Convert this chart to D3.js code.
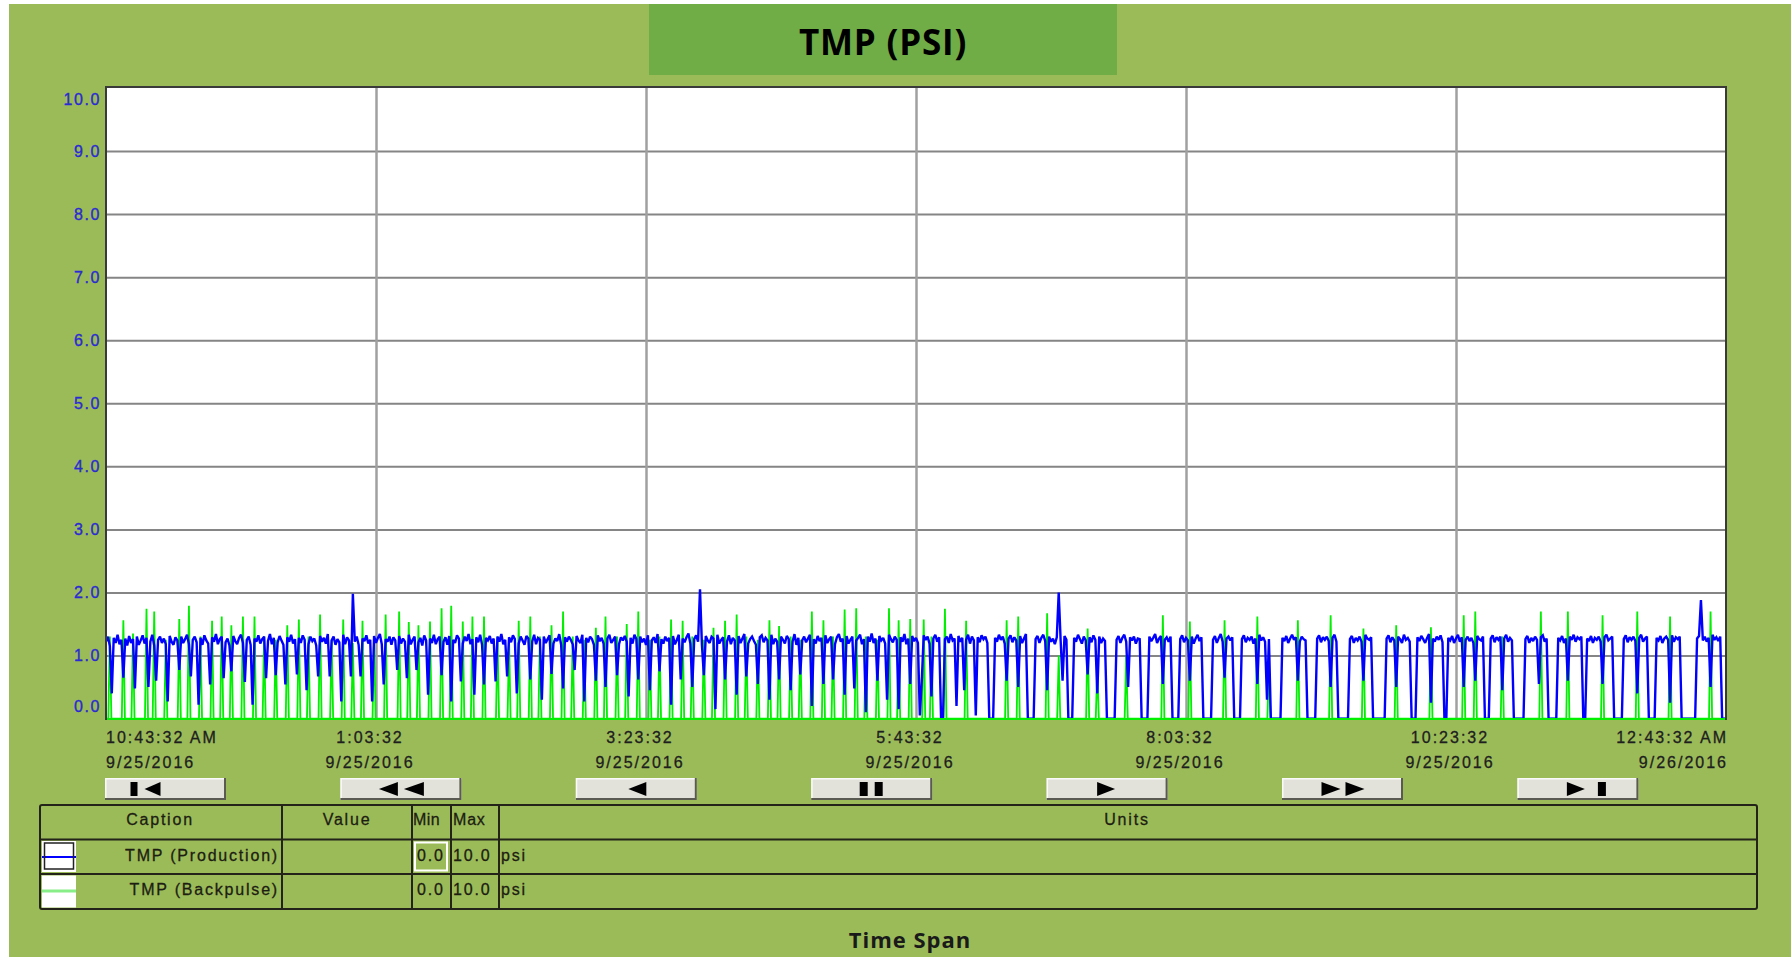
<!DOCTYPE html>
<html><head><meta charset="utf-8">
<script src="https://cdn.jsdelivr.net/npm/d3@7"></script>
<style>body{margin:0;background:#fff;overflow:hidden}svg{display:block}</style>
</head><body><svg id="c" width="1791" height="957"></svg>
<script>
// ---------------- DATA ----------------
const chartTitle = "TMP (PSI)";
const footerText = "Time Span";
const spanMinutes = 840; // 10:43:32 AM 9/25 -> 12:43:32 AM 9/26
const tickMinutes = [0, 140, 280, 420, 560, 700, 840];
const tickTimeLabels = ["10:43:32 AM", "1:03:32", "3:23:32", "5:43:32", "8:03:32", "10:23:32", "12:43:32 AM"];
const tickDateLabels = ["9/25/2016", "9/25/2016", "9/25/2016", "9/25/2016", "9/25/2016", "9/25/2016", "9/26/2016"];
const yTicks = [0, 1, 2, 3, 4, 5, 6, 7, 8, 9, 10];

// TMP (Production), one reading per minute (psi)
const prodValues = [
1.22,1.3,1.15,0.4,1.28,1.2,1.33,1.18,1.25,0.65,
1.27,1.16,1.31,1.2,1.26,0.48,1.3,1.17,1.24,1.32,
1.19,1.28,0.5,1.22,1.33,1.16,0.6,1.25,1.3,1.2,
1.27,1.18,0.27,1.31,1.22,1.17,1.29,1.24,0.77,1.3,
1.2,1.26,1.33,1.18,0.67,1.25,1.3,1.21,0.22,1.28,
1.17,1.32,1.24,1.19,0.54,1.29,1.22,1.34,1.18,1.26,
1.3,0.64,1.21,1.27,1.16,0.75,1.31,1.23,1.18,1.28,
1.33,1.2,0.58,1.25,1.3,1.17,0.22,1.27,1.22,1.32,
1.19,1.26,1.3,0.64,1.23,1.34,1.18,1.28,0.69,1.21,
1.31,1.24,1.17,0.54,1.29,1.22,1.33,1.19,1.26,0.7,
1.28,1.2,1.32,1.25,0.45,1.18,1.3,1.23,1.27,1.16,
0.67,1.31,1.22,1.28,1.19,1.34,0.67,1.24,1.3,1.17,
1.26,1.21,0.27,1.33,1.18,1.29,1.24,0.67,1.98,1.22,
1.3,1.17,0.67,1.27,1.23,1.32,1.19,1.25,0.27,1.31,
1.2,1.28,1.34,1.18,0.54,1.26,1.22,1.3,1.17,1.29,
1.24,0.77,1.31,1.19,1.27,1.22,0.64,1.33,1.18,1.25,
1.3,0.77,1.21,1.28,1.16,1.32,1.24,0.38,1.27,1.2,
1.33,1.18,1.26,1.3,0.69,1.22,1.29,1.17,1.31,0.27,
1.25,1.2,1.32,1.27,0.59,1.19,1.3,1.23,1.34,1.18,
1.26,0.38,1.29,1.21,1.33,1.17,0.54,1.28,1.24,1.31,
1.19,1.27,0.59,1.3,1.22,1.34,1.18,1.25,0.67,1.29,
1.21,1.32,1.26,0.4,1.19,1.3,1.24,1.17,1.31,1.27,
0.62,1.22,1.33,1.18,1.28,1.25,0.3,1.3,1.2,1.26,
1.32,0.71,1.19,1.27,1.23,1.34,1.17,0.48,1.29,1.22,
1.3,1.25,1.18,0.77,1.31,1.24,1.2,1.33,0.27,1.28,
1.21,1.3,1.26,1.17,0.6,1.32,1.23,1.28,1.19,0.5,
1.27,1.33,1.2,1.25,1.3,0.69,1.18,1.29,1.24,1.31,
1.22,0.35,1.28,1.19,1.33,1.26,0.62,1.3,1.21,1.27,
1.17,1.32,0.45,1.24,1.29,1.2,1.34,0.75,1.26,1.19,
1.3,1.23,1.28,0.22,1.31,1.18,1.25,1.33,0.62,1.27,
1.21,1.29,1.35,1.19,0.5,1.26,1.32,1.22,2.05,1.17,
0.69,1.31,1.24,1.2,1.3,1.27,0.15,1.33,1.19,1.25,
1.29,0.62,1.22,1.32,1.18,1.28,1.24,0.38,1.31,1.2,
1.27,1.34,0.67,1.19,1.26,1.3,1.23,1.17,0.55,1.29,
1.32,1.21,1.28,1.24,0.3,1.33,1.18,1.27,1.22,0.62,
1.3,1.25,1.19,1.31,1.26,0.45,1.22,1.34,1.17,1.28,
0.7,1.24,1.3,1.21,1.27,1.33,0.2,1.26,1.19,1.31,
1.23,1.28,0.55,1.32,1.2,1.26,1.3,0.62,1.18,1.29,
1.34,1.22,1.27,0.38,1.31,1.19,1.25,1.3,0.48,1.24,
1.28,1.33,1.18,1.26,0.1,1.3,1.22,1.35,1.2,1.27,
0.6,1.31,1.24,1.28,1.19,0.3,1.33,1.26,1.21,1.3,
1.25,0.15,1.29,1.22,1.34,1.18,1.27,0.55,1.31,1.23,
1.28,1.2,0.05,0.6,1.32,1.25,1.3,1.19,0.35,1.27,
1.33,1.22,1.29,0.0,0.0,1.26,1.3,1.2,1.34,1.24,
1.27,0.2,1.31,1.22,1.28,0.45,1.25,1.33,1.19,1.3,
1.24,0.05,1.29,1.21,1.32,1.26,1.3,1.2,0.0,0.0,
0.0,1.28,1.22,1.33,1.25,1.3,1.19,0.6,1.27,1.32,
1.21,1.29,1.24,0.5,1.31,1.2,1.27,1.34,0.0,0.0,
0.0,0.0,1.26,1.31,1.2,1.28,1.33,1.23,0.45,1.3,
1.22,1.27,1.18,1.29,2.0,1.24,0.6,1.31,1.25,0.0,
0.0,0.0,1.28,1.22,1.33,1.26,1.19,1.3,1.24,0.7,
1.29,1.21,1.32,1.25,0.4,1.3,1.2,1.27,1.23,0.0,
0.0,0.0,0.0,0.0,1.25,1.31,1.2,1.28,1.33,1.22,
0.5,1.29,1.24,1.3,1.19,1.27,1.26,0.0,0.0,0.0,
0.0,1.3,1.23,1.28,1.34,1.2,1.27,1.31,0.55,1.25,
1.29,1.22,1.3,0.0,0.0,0.0,0.0,1.26,1.32,1.21,
1.28,1.24,0.6,1.3,1.19,1.27,1.33,1.23,1.29,0.0,
0.0,0.0,0.0,0.0,1.25,1.31,1.2,1.28,1.34,1.22,
0.65,1.27,1.3,1.24,1.29,0.0,0.0,0.0,0.0,1.26,
1.32,1.21,1.28,1.25,1.3,1.19,1.27,0.55,1.33,1.24,
1.29,1.22,0.3,1.26,0.0,0.0,0.0,0.0,0.0,0.0,
1.28,1.23,1.31,1.2,1.27,1.33,1.25,1.29,0.6,1.22,
1.3,1.26,1.24,0.0,0.0,0.0,0.0,0.0,1.27,1.32,
1.21,1.29,1.25,1.3,1.23,0.5,1.28,1.33,1.22,0.0,
0.0,0.0,0.0,0.0,0.0,1.26,1.31,1.2,1.28,1.24,
1.3,1.22,0.6,1.33,1.27,1.25,1.29,0.0,0.0,0.0,
0.0,0.0,0.0,0.0,1.27,1.32,1.21,1.29,1.24,0.5,
1.3,1.26,1.2,1.33,1.25,1.28,1.22,0.0,0.0,0.0,
1.29,1.23,1.31,1.26,1.2,1.28,1.34,0.25,1.27,1.22,
1.3,1.25,1.32,1.21,0.0,0.0,1.28,1.24,1.31,1.2,
1.27,1.33,1.22,1.29,0.5,1.25,1.3,1.23,1.28,1.2,
0.6,1.31,1.26,1.24,1.3,0.0,0.0,0.0,1.27,1.32,
1.21,1.29,1.25,1.3,0.45,1.27,1.33,1.22,1.28,1.24,
0.0,0.0,0.0,0.0,0.0,0.0,1.26,1.31,1.2,1.28,
1.23,1.3,1.25,0.55,1.29,1.32,1.22,1.27,0.0,0.0,
0.0,0.0,0.0,1.28,1.24,1.31,1.2,1.27,0.6,1.3,
1.25,1.33,1.22,1.29,1.26,1.3,0.0,0.0,1.27,1.23,
1.31,1.2,1.28,1.25,1.3,1.22,0.55,1.29,1.33,1.24,
1.27,1.3,0.0,0.0,0.0,0.0,0.0,1.26,1.32,1.21,
1.29,1.25,1.3,1.23,0.4,1.28,1.33,1.22,1.27,1.3,
0.0,0.0,0.0,0.0,1.28,1.24,1.31,1.2,1.27,1.3,
1.25,0.25,1.32,1.22,1.29,1.26,1.3,0.0,0.0,0.0,
0.0,0.0,0.0,0.0,0.0,1.27,1.31,1.88,1.24,1.3,
1.22,1.28,0.5,1.33,1.25,1.29,1.23,1.3,0.0,0.0,
0.0
];

// TMP (Backpulse) pulses: minute after start, peak (psi); zero otherwise
const bpTime = [2,9,14,21,25,31,38,43,49,55,60,65,71,77,82,88,94,100,105,111,117,123,128,133,139,
145,152,157,162,168,174,179,185,190,196,203,209,214,220,225,231,237,242,248,254,259,265,270,276,282,
287,293,299,304,310,315,321,327,332,338,344,349,355,360,366,372,377,383,389,394,400,406,411,417,424,428,435,
446,467,473,488,494,509,514,529,548,562,580,597,603,618,635,652,669,687,704,710,724,744,758,776,794,811,832];
const bpPeak = [1.3,1.56,1.35,1.74,1.7,1.25,1.58,1.79,1.3,1.55,1.62,1.48,1.62,1.62,1.3,1.25,1.48,1.57,1.3,1.65,1.25,1.57,1.2,1.55,1.3,
1.65,1.7,1.53,1.48,1.54,1.75,1.79,1.54,1.62,1.62,1.3,1.25,1.55,1.62,1.3,1.48,1.7,1.3,1.25,1.44,1.62,1.3,1.5,1.7,1.25,
1.3,1.57,1.55,1.3,1.25,1.44,1.55,1.65,1.3,1.25,1.56,1.47,1.3,1.25,1.7,1.56,1.3,1.73,1.75,1.3,1.25,1.75,1.56,1.58,1.57,1.3,1.74,
1.55,1.56,1.62,1.67,1.0,1.43,0.8,1.0,1.64,1.54,1.56,1.62,0.9,1.56,1.64,1.43,1.48,1.45,1.64,1.7,1.3,1.7,1.7,1.64,1.7,1.62,1.7];

const seriesNames = ["TMP (Production)", "TMP (Backpulse)"];
const seriesColors = ["#0000ff", "#00f000"];
const legendSwatchColors = ["#0000ff", "#88ee88"];
const seriesMin = ["0.0", "0.0"];
const seriesMax = ["10.0", "10.0"];
const seriesUnits = ["psi", "psi"];
const tableHeaders = ["Caption", "Value", "Min", "Max", "Units"];
const buttonIcons = ["first", "rewind", "back", "pause", "play", "ffwd", "last"];

// ---------------- LAYOUT ----------------
const W = 1791, H = 957;
const BG = "#9bbb59";
const plot = {left: 106, right: 1726, top: 87, bottom: 720};
const t0 = new Date(2016, 8, 25, 10, 43, 32);
const toDate = m => new Date(t0.getTime() + m * 60000);
const smallFont = "'Liberation Sans', Arial, sans-serif";

const svg = d3.select("#c");
const x = d3.scaleTime().domain([toDate(0), toDate(spanMinutes)]).range([plot.left, plot.right]);
const y = d3.scaleLinear().domain([0, 10]).range([718.6, 88]);

svg.append("rect").attr("width", W).attr("height", H).attr("fill", "#fff");
svg.append("rect").attr("x", 9).attr("y", 4).attr("width", W - 9).attr("height", H - 4).attr("fill", BG);

// title box
svg.append("rect").attr("x", 649).attr("y", 4).attr("width", 468).attr("height", 71).attr("fill", "#70ad47");
svg.append("text").attr("x", 883).attr("y", 55).attr("text-anchor", "middle")
  .attr("font-family", "'Open Sans', Lato, sans-serif").attr("font-weight", 700)
  .attr("font-size", 35).attr("letter-spacing", 0.8).attr("fill", "#000").text(chartTitle);

// plot area
svg.append("rect").attr("x", plot.left).attr("y", plot.top)
  .attr("width", plot.right - plot.left).attr("height", plot.bottom - plot.top).attr("fill", "#fff");

svg.append("defs").append("clipPath").attr("id", "clip").append("rect")
  .attr("x", plot.left).attr("y", plot.top).attr("width", plot.right - plot.left).attr("height", plot.bottom - plot.top);

// grid: horizontal
const gy = svg.append("g").attr("transform", `translate(${plot.left},0)`)
  .call(d3.axisLeft(y).tickValues(yTicks.filter(v => v > 0 && v < 10)).tickSize(-(plot.right - plot.left)).tickFormat(""));
gy.select(".domain").remove();
gy.selectAll("line").attr("stroke", "#858585").attr("stroke-width", 2);
// grid: vertical
const gx = svg.append("g").attr("transform", `translate(0,${plot.bottom})`)
  .call(d3.axisBottom(x).tickValues(tickMinutes.slice(1, -1).map(toDate)).tickSize(-(plot.bottom - plot.top)).tickFormat(""));
gx.select(".domain").remove();
gx.selectAll("line").attr("stroke", "#a0a0a0").attr("stroke-width", 2.5);

// series
const bpPoints = [[0, 0]];
bpTime.forEach((t, i) => { bpPoints.push([t - 0.8, 0], [t, bpPeak[i]], [t + 0.8, 0]); });
bpPoints.push([spanMinutes, 0]);

const lineG = svg.append("g").attr("clip-path", "url(#clip)");
lineG.append("path").datum(bpPoints)
  .attr("d", d3.line().x(d => x(toDate(d[0]))).y(d => y(d[1])))
  .attr("fill", "none").attr("stroke", seriesColors[1]).attr("stroke-width", 1.8)
  .attr("stroke-linejoin", "miter").attr("stroke-miterlimit", 2);
lineG.append("path").datum(prodValues)
  .attr("d", d3.line().x((d, i) => x(toDate(i))).y(d => y(d)))
  .attr("fill", "none").attr("stroke", seriesColors[0]).attr("stroke-width", 2.4)
  .attr("stroke-linejoin", "miter").attr("stroke-miterlimit", 2);
// backpulse zero level
lineG.append("path").datum([[0, 0], [spanMinutes, 0]])
  .attr("d", d3.line().x(d => x(toDate(d[0]))).y(d => y(d[1]) + 0.8))
  .attr("fill", "none").attr("stroke", seriesColors[1]).attr("stroke-width", 3);

// plot border
svg.append("path")
  .attr("d", `M${plot.left},${plot.bottom}V${plot.top}H${plot.right}V${plot.bottom}`)
  .attr("fill", "none").attr("stroke", "#3a3a3a").attr("stroke-width", 2);

// y labels
svg.append("g").selectAll("text").data(yTicks).join("text")
  .attr("x", 101)
  .attr("y", d => Math.min(Math.max(y(d), plot.top + 12), plot.bottom - 14))
  .attr("dy", "0.36em").attr("text-anchor", "end")
  .attr("font-family", smallFont).attr("font-size", 16).attr("letter-spacing", 1.6)
  .attr("fill", "#2a2ad2").attr("stroke", "#2a2ad2").attr("stroke-width", 0.35).text(d => d.toFixed(1));

// x labels
const anchorFor = i => i === 0 ? "start" : (i === tickMinutes.length - 1 ? "end" : "middle");
const xLab = i => x(toDate(tickMinutes[i])) + (i === 0 ? 0 : (i === tickMinutes.length - 1 ? 2 : -6));
const xl = svg.append("g").attr("font-family", smallFont).attr("font-size", 16).attr("letter-spacing", 2)
  .attr("fill", "#1e1e1e").attr("stroke", "#1e1e1e").attr("stroke-width", 0.3);
xl.selectAll("text.t").data(tickTimeLabels).join("text").attr("class", "t")
  .attr("x", (d, i) => xLab(i)).attr("y", 743).attr("text-anchor", (d, i) => anchorFor(i)).text(d => d);
xl.selectAll("text.d").data(tickDateLabels).join("text").attr("class", "d")
  .attr("x", (d, i) => xLab(i)).attr("y", 768).attr("text-anchor", (d, i) => anchorFor(i)).text(d => d);

// buttons
const btnW = 121, btnH = 22;
function tri(g, x0, x1, dir) {
  const top = 4, bot = 18, mid = 11;
  const d = dir < 0 ? `M${x1},${top}L${x0},${mid}L${x1},${bot}Z` : `M${x0},${top}L${x1},${mid}L${x0},${bot}Z`;
  g.append("path").attr("d", d).attr("fill", "#000");
}
function bar(g, x0, x1) { g.append("rect").attr("x", x0).attr("y", 4).attr("width", x1 - x0).attr("height", 14).attr("fill", "#000"); }
buttonIcons.forEach((name, i) => {
  const bx = 105 + i * 235.4, by = 778;
  const g = svg.append("g").attr("transform", `translate(${bx},${by})`);
  g.append("rect").attr("width", btnW).attr("height", btnH).attr("fill", "#e2e2da");
  g.append("path").attr("d", `M0.75,${btnH}V0.75H${btnW}`).attr("stroke", "#fafafa").attr("stroke-width", 1.5).attr("fill", "none");
  g.append("path").attr("d", `M0,${btnH - 1}H${btnW - 1}V0`).attr("stroke", "#5a5a52").attr("stroke-width", 2).attr("fill", "none");
  const ic = g.append("g").attr("transform", `translate(${btnW / 2},0)`);
  if (name === "first") { bar(ic, -35, -28); tri(ic, -21, -5, -1); }
  if (name === "rewind") { tri(ic, -22, -3, -1); tri(ic, 3, 23, -1); }
  if (name === "back") { tri(ic, -8, 10, -1); }
  if (name === "pause") { bar(ic, -12, -4); bar(ic, 3, 11); }
  if (name === "play") { tri(ic, -10, 8, 1); }
  if (name === "ffwd") { tri(ic, -21, -2, 1); tri(ic, 3, 22, 1); }
  if (name === "last") { tri(ic, -11, 7, 1); bar(ic, 20, 28); }
});

// legend table
const tL = 40, tR = 1757, rowY = [805, 839.5, 874, 909];
const colX = [282, 412, 451, 499];
const tbl = svg.append("g");
// swatches
tbl.append("rect").attr("x", 42).attr("y", 841).attr("width", 34).attr("height", 31).attr("fill", "#fff");
tbl.append("line").attr("x1", 42).attr("x2", 76).attr("y1", 857).attr("y2", 857).attr("stroke", legendSwatchColors[0]).attr("stroke-width", 2);
tbl.append("rect").attr("x", 44.5).attr("y", 843).attr("width", 29).attr("height", 26).attr("fill", "none").attr("stroke", "#222").attr("stroke-width", 1.5);
tbl.append("rect").attr("x", 42).attr("y", 875.5).attr("width", 34).attr("height", 32).attr("fill", "#fff");
tbl.append("line").attr("x1", 42).attr("x2", 76).attr("y1", 891).attr("y2", 891).attr("stroke", legendSwatchColors[1]).attr("stroke-width", 3);
// selected min cell
tbl.append("rect").attr("x", 415).attr("y", 842.5).attr("width", 32).attr("height", 28).attr("fill", "none").attr("stroke", "#fff").attr("stroke-width", 2);
// grid lines
const lc = "#23231a";
tbl.append("rect").attr("x", tL).attr("y", rowY[0]).attr("width", tR - tL).attr("height", rowY[3] - rowY[0])
  .attr("rx", 2).attr("fill", "none").attr("stroke", lc).attr("stroke-width", 2);
[rowY[1], rowY[2]].forEach(yy => tbl.append("line").attr("x1", tL).attr("x2", tR).attr("y1", yy).attr("y2", yy).attr("stroke", lc).attr("stroke-width", 2));
colX.forEach(xx => tbl.append("line").attr("x1", xx).attr("x2", xx).attr("y1", rowY[0]).attr("y2", rowY[3]).attr("stroke", lc).attr("stroke-width", 2));

const tt = tbl.append("g").attr("font-family", smallFont).attr("font-size", 16).attr("letter-spacing", 1.8)
  .attr("fill", "#1d1d12").attr("stroke", "#1d1d12").attr("stroke-width", 0.3);
const hdrX = [160, 347, 413, 453, 1127];
const hdrAnchor = ["middle", "middle", "start", "start", "middle"];
const hdrSpacing = [1.8, 1.8, 0.4, 0.8, 1.8];
tt.selectAll("text.h").data(tableHeaders).join("text").attr("class", "h")
  .attr("x", (d, i) => hdrX[i]).attr("y", 825).attr("letter-spacing", (d, i) => hdrSpacing[i])
  .attr("text-anchor", (d, i) => hdrAnchor[i]).text(d => d);
const rowBase = [861, 895];
tt.selectAll("text.n").data(seriesNames).join("text").attr("class", "n")
  .attr("x", 279).attr("y", (d, i) => rowBase[i]).attr("text-anchor", "end").text(d => d);
tt.selectAll("text.mn").data(seriesMin).join("text").attr("class", "mn")
  .attr("x", 417).attr("y", (d, i) => rowBase[i]).text(d => d);
tt.selectAll("text.mx").data(seriesMax).join("text").attr("class", "mx")
  .attr("x", 453).attr("y", (d, i) => rowBase[i]).text(d => d);
tt.selectAll("text.u").data(seriesUnits).join("text").attr("class", "u")
  .attr("x", 501).attr("y", (d, i) => rowBase[i]).text(d => d);

// footer
svg.append("text").attr("x", 910).attr("y", 948).attr("text-anchor", "middle")
  .attr("font-family", "'Open Sans', Lato, sans-serif").attr("font-weight", 700)
  .attr("font-size", 22).attr("letter-spacing", 1).attr("fill", "#1a1a1a").text(footerText);
</script>
</body></html>
